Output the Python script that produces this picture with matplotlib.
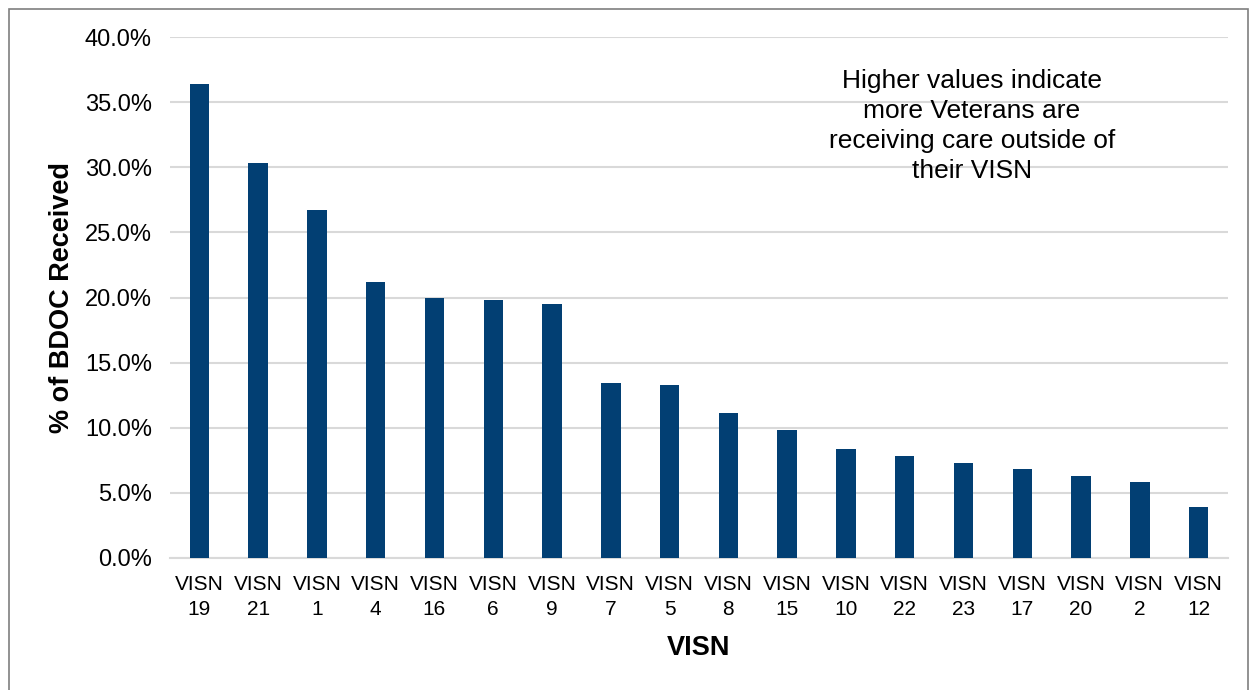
import matplotlib.pyplot as plt
from matplotlib.patches import Rectangle
from matplotlib.ticker import FuncFormatter

plt.rcParams['font.family'] = ['Liberation Sans', 'DejaVu Sans']

visn_labels = ['VISN\n19', 'VISN\n21', 'VISN\n1', 'VISN\n4', 'VISN\n16', 'VISN\n6',
               'VISN\n9', 'VISN\n7', 'VISN\n5', 'VISN\n8', 'VISN\n15', 'VISN\n10',
               'VISN\n22', 'VISN\n23', 'VISN\n17', 'VISN\n20', 'VISN\n2', 'VISN\n12']
pct_bdoc = [36.4, 30.3, 26.7, 21.2, 20.0, 19.8, 19.5, 13.4, 13.3, 11.1,
            9.8, 8.4, 7.8, 7.3, 6.8, 6.3, 5.8, 3.95]
note = 'Higher values indicate\nmore Veterans are\nreceiving care outside of\ntheir VISN'

fig = plt.figure(figsize=(12.54, 6.9), dpi=100)
ax = fig.add_axes([170 / 1254, 1 - 558 / 690, 1058 / 1254, 521 / 690])

x = range(len(pct_bdoc))
ax.bar(x, pct_bdoc, width=0.33, color='#023f73', zorder=3)

ax.set_xlim(-0.5, len(pct_bdoc) - 0.5)
ax.set_ylim(0, 40)
ax.set_yticks(range(0, 41, 5))
ax.yaxis.set_major_formatter(FuncFormatter(lambda v, p: f'{v:.1f}%'))
ax.set_xticks(list(x))
ax.set_xticklabels(visn_labels, fontsize=15, linespacing=1.4)
ax.tick_params(axis='y', labelsize=17, length=0, pad=13)
ax.tick_params(axis='x', length=0, pad=12)

ax.grid(axis='y', color='#d9d9d9', linewidth=1.5, zorder=0)
for side in ['top', 'right', 'left']:
    ax.spines[side].set_visible(False)
ax.spines['bottom'].set_color('#d9d9d9')
ax.spines['bottom'].set_linewidth(1.5)

ax.set_ylabel('% of BDOC Received', fontsize=19.5, fontweight='bold', labelpad=7)
ax.set_xlabel('VISN', fontsize=19.5, fontweight='bold', labelpad=12)

ax.text(0.758, 0.938, note, transform=ax.transAxes, ha='center', va='top',
        fontsize=19, linespacing=1.31)

fig.patches.append(Rectangle((9 / 1254, -0.05), 1239 / 1254, 1 - 9 / 690 + 0.05,
                             transform=fig.transFigure, fill=False,
                             edgecolor='#7f7f7f', linewidth=1.2))

fig.savefig('out.png', dpi=100)
